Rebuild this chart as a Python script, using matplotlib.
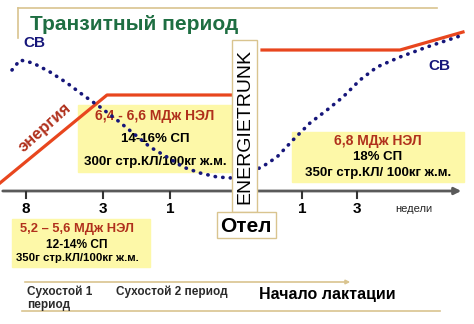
import matplotlib.pyplot as plt
from matplotlib.patches import Rectangle

plt.rcParams['font.family'] = ['Liberation Sans', 'DejaVu Sans']

# ==========================================
# DATA (schematic units = picture pixels, y grows downward)
# ==========================================
energy_pre_x = [0, 107, 232]
energy_pre_y = [183, 95, 95]
energy_post_x = [262, 400, 463]
energy_post_y = [50, 50, 32]

# dry matter intake (СВ) curve
dm_x = [12, 20, 33, 50, 67, 83, 100, 117, 133, 150, 167, 183, 200, 217, 232,
        247, 262, 277, 293, 310, 327, 343, 360, 377, 400, 427, 463]
dm_y = [70, 60, 63, 72, 83, 95, 107, 120, 133, 147, 157, 167, 173, 177, 178,
        173, 167, 157, 140, 123, 110, 97, 80, 67, 57, 47, 35]

week_pos = [26, 103, 170, 302, 357]
week_labels = ['8', '3', '1', '1', '3']

box_pre2 = ['6,4 - 6,6 МДж НЭЛ', '14-16% СП', '300г стр.КЛ/100кг ж.м.']
box_post = ['6,8 МДж НЭЛ', '18% СП', '350г стр.КЛ/ 100кг ж.м.']
box_pre1 = ['5,2 – 5,6 МДж НЭЛ', '12-14% СП', '350г стр.КЛ/100кг ж.м.']

RED_LINE = '#e8461e'
RED_TXT = '#b0301c'
NAVY = '#16167a'
YELLOW = '#fdf8a8'
TAN = '#d9c48f'
GREEN = '#1e6e42'

fig = plt.figure(figsize=(4.74, 3.24), dpi=100)
ax = fig.add_axes([0, 0, 1, 1])
ax.set_xlim(0, 474)
ax.set_ylim(324, 0)
ax.axis('off')

# frame at the top
ax.plot([18, 437], [8, 8], color=TAN, lw=1.2)
ax.plot([18, 18], [8, 38], color=TAN, lw=1.2)
ax.text(30, 25, 'Транзитный период', color=GREEN, fontsize=15,
        fontweight='bold', va='center', ha='left')

# yellow boxes
ax.add_patch(Rectangle((78, 105), 154, 67, color=YELLOW, zorder=1))
ax.add_patch(Rectangle((292, 132), 172, 50, color=YELLOW, zorder=1))
ax.add_patch(Rectangle((12, 219), 138, 48, color=YELLOW, zorder=1))

def box_text(cx, ys, lines, sizes):
    for i, (y, s, sz) in enumerate(zip(ys, lines, sizes)):
        ax.text(cx, y, s, ha='center', va='center', fontsize=sz,
                fontweight='bold', color=RED_TXT if i == 0 else 'black', zorder=2)

box_text(155, [116, 139, 162], box_pre2, [10, 9.5, 9.5])
box_text(378, [141, 157, 173], box_post, [10, 9.5, 9.5])
box_text(77, [229, 245, 258], box_pre1, [9.3, 8.6, 8.2])

# energy line
ax.plot(energy_pre_x, energy_pre_y, color=RED_LINE, lw=2.3, zorder=3)
ax.plot(energy_post_x, energy_post_y, color=RED_LINE, lw=2.3, zorder=3)
ax.text(45, 128, 'энергия', color=RED_TXT, fontsize=12, fontweight='bold',
        rotation=42, ha='center', va='center', zorder=3)

# dry matter curve
ax.plot(dm_x, dm_y, color=NAVY, lw=2.6, linestyle=(0, (0.1, 2.0)),
        dash_capstyle='round', zorder=4)
ax.text(23, 43, 'СВ', color=NAVY, fontsize=11, fontweight='bold', va='center')
ax.text(428, 66, 'СВ', color=NAVY, fontsize=11, fontweight='bold', va='center')

# week axis
ax.annotate('', xy=(464, 191), xytext=(0, 191),
            arrowprops=dict(arrowstyle='-|>', color='#5a5a5a', lw=2,
                            mutation_scale=10), zorder=5)
for x, lab in zip(week_pos, week_labels):
    ax.plot([x, x], [192, 198], color='#333333', lw=1.5, zorder=5)
    ax.text(x, 209, lab, ha='center', va='center', fontsize=11,
            fontweight='bold', color='black')
ax.text(395, 209, 'недели', ha='left', va='center', fontsize=8, color='#222222')

# ENERGIETRUNK column and calving label
ax.add_patch(Rectangle((232, 40), 25, 172, facecolor='white', edgecolor=TAN,
                       lw=1, zorder=6))
ax.text(244.5, 126, 'ENERGIETRUNK', rotation=90, ha='center', va='center',
        fontsize=14, color='black', zorder=7)
ax.add_patch(Rectangle((217, 212), 59, 26, facecolor='white', edgecolor=TAN,
                       lw=1, zorder=6))
ax.text(246, 226, 'Отел', ha='center', va='center', fontsize=15,
        fontweight='bold', color='black', zorder=7)

# bottom periods
ax.annotate('', xy=(353, 282), xytext=(22, 282),
            arrowprops=dict(arrowstyle='-|>', color=TAN, lw=1.2,
                            mutation_scale=6))
ax.plot([22, 440], [311, 311], color=TAN, lw=1.2)
ax.text(27, 292, 'Сухостой 1', fontsize=8.5, fontweight='bold',
        color='#2a2a2a', va='center')
ax.text(27, 305, 'период', fontsize=8.5, fontweight='bold',
        color='#2a2a2a', va='center')
ax.text(116, 292, 'Сухостой 2 период', fontsize=8.5, fontweight='bold',
        color='#2a2a2a', va='center')
ax.text(259, 294, 'Начало лактации', fontsize=11.5, fontweight='bold',
        color='black', va='center')

fig.savefig('out.png', dpi=100)
